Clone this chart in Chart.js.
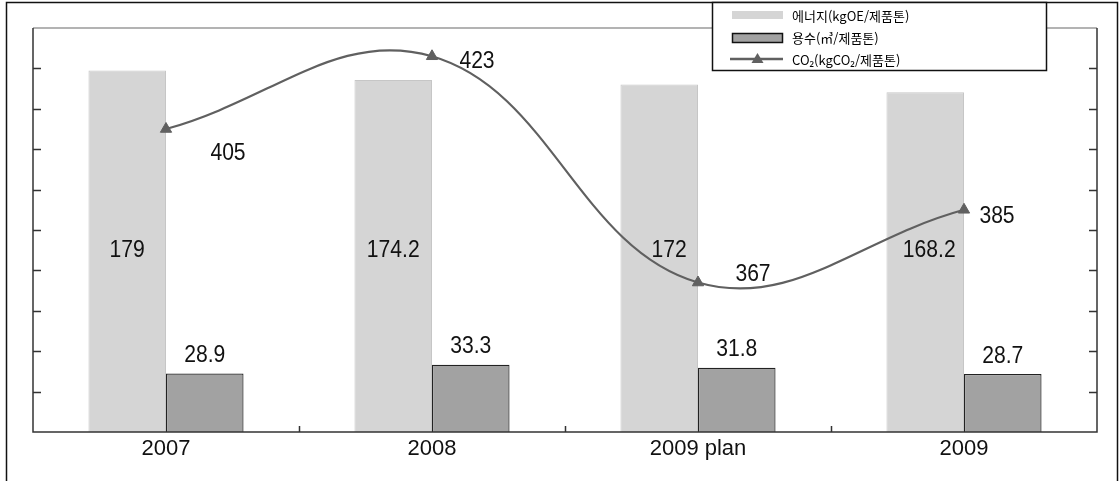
<!DOCTYPE html>
<html lang="ko">
<head>
<meta charset="utf-8">
<title>에너지·용수·CO₂ 원단위</title>
<script src="https://cdn.jsdelivr.net/npm/chart.js@4.4.1/dist/chart.umd.min.js"></script>
<style>
  html, body { margin: 0; padding: 0; background: #fff; }
  canvas { display: block; }
</style>
</head>
<body>
<canvas id="c" width="1120" height="481"></canvas>
<script>
// ---- data ----
const categories   = ['2007', '2008', '2009 plan', '2009'];
const energyValues = [179, 174.2, 172, 168.2];   // kgOE / 제품톤
const waterValues  = [28.9, 33.3, 31.8, 28.7];   // ㎥ / 제품톤
const co2Values    = [405, 423, 367, 385];       // kgCO₂ / 제품톤
const seriesNames  = ['에너지(kgOE/제품톤)', '용수(㎥/제품톤)', 'CO₂(kgCO₂/제품톤)'];
const leftAxis  = { min: 0,   max: 200, step: 20 };
const rightAxis = { min: 330, max: 430, step: 10 };

// ---- styles ----
const AXIS_FAMILY = '"Liberation Sans", Arial, sans-serif';
const LABEL_FONT = '24px "Liberation Sans", Arial, sans-serif';
const LABEL_SQUEEZE = 0.88;       // narrow the value labels horizontally
const LEGEND_FONT = '13px "Noto Sans CJK KR", "Noto Sans", sans-serif';
const ENERGY_FILL = '#d5d5d5';
const WATER_FILL = '#a2a2a2';
const LINE_COLOR = '#606060';

// energy labels sit on a common row (value 90 on the left axis),
// water labels above their bars, CO₂ labels beside each marker
const energyLabelRow = 90;
const energyLabelShift = [0, 0, 10, 4];
const co2LabelShift = [[62, 24], [45, 5], [55, -8], [33, 7]];

function squeezedText(ctx, text, x, y) {
  ctx.save();
  ctx.translate(x, y);
  ctx.scale(LABEL_SQUEEZE, 1);
  ctx.fillText(text, 0, 0);
  ctx.restore();
}

const valueLabels = {
  id: 'valueLabels',
  beforeDatasetDraw(chart, args) {
    if (args.index !== 2) return;
    const ctx = chart.ctx;
    ctx.save();
    ctx.font = LABEL_FONT;
    ctx.fillStyle = '#111';
    ctx.textAlign = 'center';
    ctx.textBaseline = 'middle';
    const rowY = chart.scales.y.getPixelForValue(energyLabelRow);
    chart.getDatasetMeta(0).data.forEach((bar, i) => {
      squeezedText(ctx, String(energyValues[i]), bar.x + energyLabelShift[i], rowY);
    });
    chart.getDatasetMeta(1).data.forEach((bar, i) => {
      squeezedText(ctx, String(waterValues[i]), bar.x, bar.y - 18);
    });
    chart.getDatasetMeta(2).data.forEach((pt, i) => {
      const [dx, dy] = co2LabelShift[i];
      squeezedText(ctx, String(co2Values[i]), pt.x + dx, pt.y + dy);
    });
    ctx.restore();
  }
};

// plot frame with inward tick marks on both value axes and between categories
const plotFrame = {
  id: 'plotFrame',
  afterDatasetsDraw(chart) {
    const { ctx, chartArea: a, scales } = chart;
    ctx.save();
    // outer border of the figure
    ctx.strokeStyle = '#111';
    ctx.lineWidth = 1.5;
    ctx.beginPath();
    ctx.moveTo(6.5, chart.height);
    ctx.lineTo(6.5, 2.5);
    ctx.lineTo(1117.5, 2.5);
    ctx.lineTo(1117.5, chart.height);
    ctx.stroke();

    // top edge of the plot
    ctx.strokeStyle = '#9a9a9a';
    ctx.lineWidth = 1.5;
    ctx.beginPath();
    ctx.moveTo(a.left, a.top);
    ctx.lineTo(a.right, a.top);
    ctx.stroke();

    // left, bottom, right axis lines
    ctx.strokeStyle = '#333';
    ctx.lineWidth = 1.5;
    ctx.beginPath();
    ctx.moveTo(a.left, a.top);
    ctx.lineTo(a.left, a.bottom);
    ctx.lineTo(a.right, a.bottom);
    ctx.lineTo(a.right, a.top);
    ctx.stroke();

    // tick marks
    ctx.beginPath();
    scales.y.ticks.forEach(t => {
      if (t.value === leftAxis.min || t.value === leftAxis.max) return;
      const py = Math.round(scales.y.getPixelForValue(t.value)) + 0.5;
      ctx.moveTo(a.left, py);
      ctx.lineTo(a.left + 8, py);
    });
    scales.y2.ticks.forEach(t => {
      if (t.value === rightAxis.min || t.value === rightAxis.max) return;
      const py = Math.round(scales.y2.getPixelForValue(t.value)) + 0.5;
      ctx.moveTo(a.right, py);
      ctx.lineTo(a.right - 8, py);
    });
    for (let i = 0; i < categories.length - 1; i++) {
      const px = Math.round((scales.x.getPixelForValue(i) + scales.x.getPixelForValue(i + 1)) / 2) + 0.5;
      ctx.moveTo(px, a.bottom);
      ctx.lineTo(px, a.bottom - 6);
    }
    ctx.stroke();
    ctx.restore();
  }
};

// boxed legend in the upper right corner
const boxLegend = {
  id: 'boxLegend',
  afterDraw(chart) {
    const ctx = chart.ctx;
    const box = { x: 712.5, y: 2.5, w: 334, h: 68 };
    ctx.save();
    ctx.fillStyle = '#fff';
    ctx.fillRect(box.x, box.y, box.w, box.h);
    ctx.strokeStyle = '#111';
    ctx.lineWidth = 1.5;
    ctx.strokeRect(box.x, box.y, box.w, box.h);

    const sx = 732, sw = 51, tx = 792;
    const rows = [15, 37, 59];

    // energy swatch
    ctx.fillStyle = ENERGY_FILL;
    ctx.fillRect(sx, rows[0] - 4, sw, 8);
    // water swatch
    ctx.fillStyle = WATER_FILL;
    ctx.fillRect(sx, rows[1] - 4, sw, 9);
    ctx.strokeStyle = '#111';
    ctx.lineWidth = 1.5;
    ctx.strokeRect(sx + 0.5, rows[1] - 4 + 0.5, sw - 1, 9);
    // CO₂ swatch: line with triangle marker
    ctx.strokeStyle = LINE_COLOR;
    ctx.lineWidth = 2.5;
    ctx.beginPath();
    ctx.moveTo(sx - 2, rows[2]);
    ctx.lineTo(sx + sw, rows[2]);
    ctx.stroke();
    ctx.fillStyle = LINE_COLOR;
    ctx.beginPath();
    const cx = sx + sw / 2, cy = rows[2];
    ctx.moveTo(cx, cy - 6);
    ctx.lineTo(cx + 6, cy + 4);
    ctx.lineTo(cx - 6, cy + 4);
    ctx.closePath();
    ctx.fill();

    ctx.fillStyle = '#000';
    ctx.font = LEGEND_FONT;
    ctx.textAlign = 'left';
    ctx.textBaseline = 'middle';
    seriesNames.forEach((name, i) => ctx.fillText(name, tx, rows[i] + 1));
    ctx.restore();
  }
};

new Chart(document.getElementById('c'), {
  type: 'bar',
  data: {
    labels: categories,
    datasets: [
      {
        label: seriesNames[0],
        data: energyValues,
        yAxisID: 'y',
        backgroundColor: ENERGY_FILL,
        borderColor: '#c6c6c6',
        borderWidth: 1,
        categoryPercentage: 0.583,
        barPercentage: 1.0,
        order: 2
      },
      {
        label: seriesNames[1],
        data: waterValues,
        yAxisID: 'y',
        backgroundColor: WATER_FILL,
        borderColor: '#222',
        borderWidth: 1.2,
        categoryPercentage: 0.583,
        barPercentage: 1.0,
        order: 2
      },
      {
        type: 'line',
        label: seriesNames[2],
        data: co2Values,
        yAxisID: 'y2',
        borderColor: LINE_COLOR,
        borderWidth: 2.2,
        tension: 0.4,
        pointStyle: 'triangle',
        pointRadius: 6.5,
        pointBackgroundColor: LINE_COLOR,
        pointBorderColor: LINE_COLOR,
        pointBorderWidth: 1,
        clip: false,
        order: 1
      }
    ]
  },
  options: {
    responsive: false,
    animation: false,
    devicePixelRatio: 1,
    layout: { padding: { left: 33, right: 23, top: 28, bottom: 0 } },
    plugins: { legend: { display: false }, tooltip: { enabled: false } },
    scales: {
      x: {
        grid: { display: false, drawTicks: false },
        border: { display: false },
        ticks: { padding: 4, color: '#111', font: { family: AXIS_FAMILY, size: 22 } },
        afterFit(scale) { scale.height = 49; }
      },
      y: {
        position: 'left',
        min: leftAxis.min, max: leftAxis.max,
        ticks: { stepSize: leftAxis.step, display: false },
        grid: { display: false, drawTicks: false },
        border: { display: false },
        afterFit(scale) { scale.width = 0; }
      },
      y2: {
        position: 'right',
        min: rightAxis.min, max: rightAxis.max,
        ticks: { stepSize: rightAxis.step, display: false },
        grid: { display: false, drawTicks: false },
        border: { display: false },
        afterFit(scale) { scale.width = 0; }
      }
    }
  },
  plugins: [valueLabels, plotFrame, boxLegend]
});
</script>
</body>
</html>
